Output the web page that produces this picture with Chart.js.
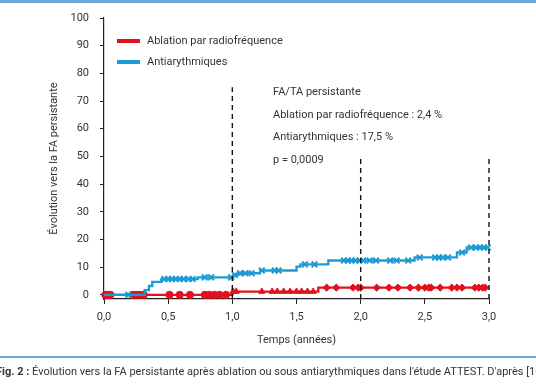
<!DOCTYPE html>
<html>
<head>
<meta charset="utf-8">
<script src="https://cdn.jsdelivr.net/npm/chart.js@4.4.1/dist/chart.umd.min.js"></script>
<style>
  html, body { margin: 0; padding: 0; background: #fff; }
  body { width: 536px; height: 386px; position: relative; overflow: hidden; font-family: Roboto, "Open Sans", sans-serif; color: #333; }
  #wrap { position: absolute; left: 0; top: 0; width: 536px; height: 386px; }
  .rule { position: absolute; left: 0; width: 536px; background: #6ea6d6; }
  .legend { position: absolute; font-size: 11px; line-height: 14px; white-space: nowrap; }
  .legend span.sw { position: absolute; left: -30px; top: 5px; width: 23px; height: 3.5px; }
  .note { position: absolute; left: 273px; font-size: 11px; line-height: 14px; white-space: nowrap; color: #333; }
  #caption { position: absolute; left: -4px; top: 365px; font-size: 11px; white-space: nowrap; color: #333; }
</style>
</head>
<body>
<div id="wrap"><canvas id="km" width="536" height="386"></canvas></div>
<div class="rule" style="top:0;height:3px"></div>
<div class="rule" style="top:356px;height:2px"></div>

<div class="legend" style="left:147px;top:34px"><span class="sw" style="background:#e3101d"></span>Ablation par radiofréquence</div>
<div class="legend" style="left:147px;top:55px"><span class="sw" style="background:#1c9ad6"></span>Antiarythmiques</div>

<div class="note" style="top:85px">FA/TA persistante</div>
<div class="note" style="top:108px">Ablation par radiofréquence : 2,4 %</div>
<div class="note" style="top:130px">Antiarythmiques : 17,5 %</div>
<div class="note" style="top:153px">p = 0,0009</div>

<div id="caption"><b>Fig. 2 :</b> Évolution vers la FA persistante après ablation ou sous antiarythmiques dans l'étude ATTEST. D'après [10]</div>

<script>
// courbes de Kaplan-Meier (temps en années, % de patients)
const blueTimes  = [0, 0.317, 0.35, 0.376, 0.447, 0.73, 1.01, 1.047, 1.216, 1.5, 1.53, 1.748, 2.42, 2.75, 2.826, 3.0];
const blueValues = [0, 1.7, 3.2, 4.7, 5.7, 6.3, 7.2, 7.8, 8.8, 10.2, 11.0, 12.4, 13.5, 15.3, 17.1, 17.1];

const redTimes  = [0, 1.0, 1.67, 3.0];
const redValues = [0, 1.2, 2.6, 2.6];

// patients censurés
const blueCensor = [0.19, 0.47, 0.5, 0.53, 0.56, 0.59, 0.62, 0.66, 0.69, 0.785, 0.835, 0.99, 1.02, 1.06, 1.1, 1.15, 1.23, 1.33, 1.36, 1.566, 1.64, 1.87, 1.9, 1.93, 1.96, 1.99, 2.02, 2.07, 2.12, 2.23, 2.28, 2.37, 2.46, 2.58, 2.61, 2.64, 2.68, 2.79, 2.86, 2.9, 2.93, 2.96, 2.99];
const redCensor = [0.01, 0.03, 0.05, 0.22, 0.25, 0.28, 0.31, 0.51, 0.59, 0.67, 0.785, 0.82, 0.86, 0.9, 0.95, 1.005, 1.03, 1.23, 1.31, 1.35, 1.4, 1.45, 1.5, 1.54, 1.585, 1.63, 1.735, 1.81, 1.94, 1.98, 2.0, 2.125, 2.22, 2.29, 2.385, 2.45, 2.5, 2.53, 2.55, 2.62, 2.71, 2.75, 2.79, 2.89, 2.92, 2.95, 2.97];

// lignes verticales pointillées (x, hauteur)
const dashX   = [1.0, 2.0, 3.0];
const dashTop = [75, 50, 50];

const xTicks = [0, 0.5, 1.0, 1.5, 2.0, 2.5, 3.0];
const xTickLabels = ["0,0", "0,5", "1,0", "1,5", "2,0", "2,5", "3,0"];
const yTicks = [0, 10, 20, 30, 40, 50, 60, 70, 80, 90, 100];

const RED = "#e3101d";
const BLUE = "#1c9ad6";
const Y_MIN = -1.5;

function stepValue(times, values, x) {
    let v = values[0];
    for (let i = 0; i < times.length; i++) {
        if (times[i] <= x) v = values[i];
    }
    return v;
}

const toPts = (xs, ys) => xs.map((x, i) => ({ x: x, y: ys[i] }));

const datasets = [];

dashX.forEach((x, i) => {
    datasets.push({
        type: "line",
        data: [{ x: x, y: Y_MIN }, { x: x, y: dashTop[i] }],
        borderColor: "#111",
        borderWidth: 1.4,
        borderDash: [5, 4],
        pointRadius: 0,
        clip: false
    });
});

datasets.push({
    type: "line",
    data: toPts(blueTimes, blueValues),
    stepped: true,
    borderColor: BLUE,
    borderWidth: 2.3,
    pointRadius: 0,
    clip: false
});
datasets.push({
    type: "line",
    data: toPts(redTimes, redValues),
    stepped: true,
    borderColor: RED,
    borderWidth: 2.3,
    pointRadius: 0,
    clip: false
});
datasets.push({
    type: "scatter",
    data: blueCensor.map(x => ({ x: x, y: stepValue(blueTimes, blueValues, x) })),
    pointStyle: "crossRot",
    pointRadius: 4,
    borderColor: BLUE,
    borderWidth: 2,
    clip: false
});
datasets.push({
    type: "scatter",
    data: redCensor.map(x => ({ x: x, y: stepValue(redTimes, redValues, x) })),
    pointStyle: ctx => {
        const x = ctx.raw ? ctx.raw.x : 0;
        if (x < 1.0) return "circle";
        if (x < 1.67) return "triangle";
        return "rectRot";
    },
    pointRadius: 3.6,
    backgroundColor: RED,
    borderColor: RED,
    borderWidth: 1,
    clip: false
});

const ctx = document.getElementById("km").getContext("2d");
new Chart(ctx, {
    data: { datasets: datasets },
    options: {
        responsive: false,
        animation: false,
        layout: { padding: { left: 44, right: 47, top: 18, bottom: 35 } },
        plugins: {
            legend: { display: false },
            tooltip: { enabled: false }
        },
        scales: {
            x: {
                type: "linear",
                min: 0,
                max: 3,
                afterFit: s => { s.height = 52; },
                afterBuildTicks: s => { s.ticks = xTicks.map(v => ({ value: v })); },
                ticks: {
                    color: "#333",
                    padding: 7,
                    font: { family: "Roboto", size: 11 },
                    callback: (v) => xTickLabels[xTicks.indexOf(v)]
                },
                grid: { drawOnChartArea: false, tickLength: 5, color: "#222", lineWidth: 1 },
                border: { color: "#222", width: 1.2 },
                title: {
                    display: true,
                    text: "Temps (années)",
                    color: "#333",
                    font: { family: "Roboto", size: 11 }
                }
            },
            y: {
                type: "linear",
                min: Y_MIN,
                max: 100,
                afterFit: s => { s.width = 60; },
                afterBuildTicks: s => { s.ticks = yTicks.map(v => ({ value: v })); },
                ticks: {
                    color: "#333",
                    padding: 11,
                    font: { family: "Roboto", size: 11 }
                },
                grid: { drawOnChartArea: false, tickLength: 4, color: "#222", lineWidth: 1 },
                border: { color: "#222", width: 1.2 },
                title: {
                    display: true,
                    text: "Évolution vers la FA persistante",
                    color: "#333",
                    font: { family: "Roboto", size: 11 }
                }
            }
        }
    }
});
</script>
</body>
</html>
